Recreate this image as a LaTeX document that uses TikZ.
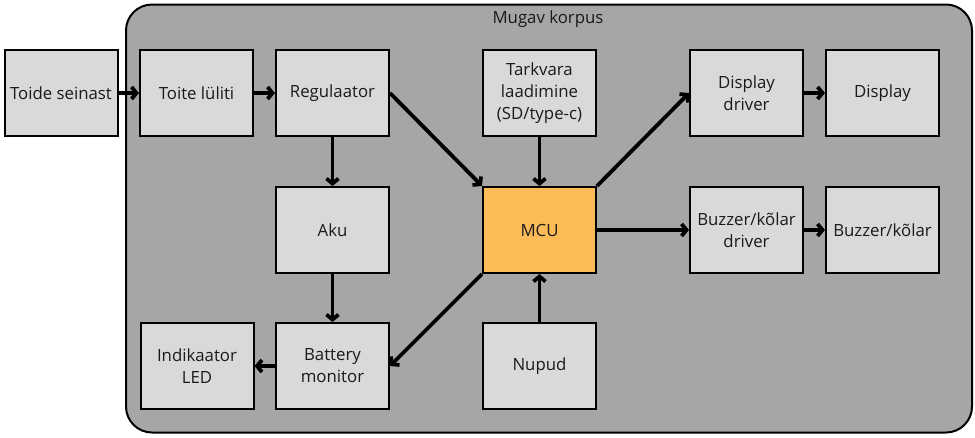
\documentclass[tikz,border=0pt]{standalone}
\usepackage{fontspec}
\setmainfont{Open Sans}
\usetikzlibrary{arrows.meta}
\definecolor{boxgray}{HTML}{D9D9D9}
\definecolor{casegray}{HTML}{A6A6A6}
\definecolor{mcuorange}{HTML}{FDBB57}
\definecolor{txt}{HTML}{1A1A1A}
\tikzset{
  blk/.style={draw=black, line width=2pt, fill=boxgray, minimum width=113pt, minimum height=86pt, inner sep=0pt, align=center, text=txt, font=\fontsize{16.8}{22}\selectfont},
  conn/.style={line width=3.8pt, -{Straight Barb[length=5pt,width=12pt]}}
}
\begin{document}
\begin{tikzpicture}[x=1pt,y=-1pt]
\useasboundingbox (0,0) rectangle (975,437);
\node[draw=black, line width=2pt, fill=casegray, rounded corners=26pt, minimum width=846pt, minimum height=428pt, inner sep=0pt] (case) at (549,218.5) {};
\node[font=\fontsize{16.8}{19}\selectfont, text=txt] (title) at (548,19) {Mugav korpus};
\node[blk] (wall) at (61,93) {Toide seinast};
\node[blk] (switch) at (196.5,93) {Toite lüliti};
\node[blk] (reg) at (332.5,93) {Regulaator};
\node[blk] (sw) at (539.5,93) {Tarkvara\\laadimine\\(SD/type-c)};
\node[blk] (ddrv) at (746.5,93) {Display\\driver};
\node[blk] (disp) at (882.5,93) {Display};
\node[blk] (aku) at (332.5,230) {Aku};
\node[blk, fill=mcuorange] (mcu) at (539.5,230) {MCU};
\node[blk] (bdrv) at (746.5,230) {Buzzer/kõlar\\driver};
\node[blk] (buz) at (882.5,230) {Buzzer/kõlar};
\node[blk] (led) at (197,366) {Indikaator\\LED};
\node[blk] (bmon) at (332.5,366) {Battery\\monitor};
\node[blk] (btn) at (539.5,366) {Nupud};
\draw[conn] (wall) -- (switch);
\draw[conn] (switch) -- (reg);
\draw[conn] (reg) -- (aku);
\draw[conn] (reg.east) -- (mcu.north west);
\draw[conn] (sw) -- (mcu);
\draw[conn] (mcu.north east) -- (ddrv.west);
\draw[conn] (mcu) -- (bdrv);
\draw[conn] (ddrv) -- (disp);
\draw[conn] (bdrv) -- (buz);
\draw[conn] (aku) -- (bmon);
\draw[conn] (mcu.south west) -- (bmon.east);
\draw[conn] (bmon) -- (led);
\draw[conn] (btn) -- (mcu);
\end{tikzpicture}
\end{document}
